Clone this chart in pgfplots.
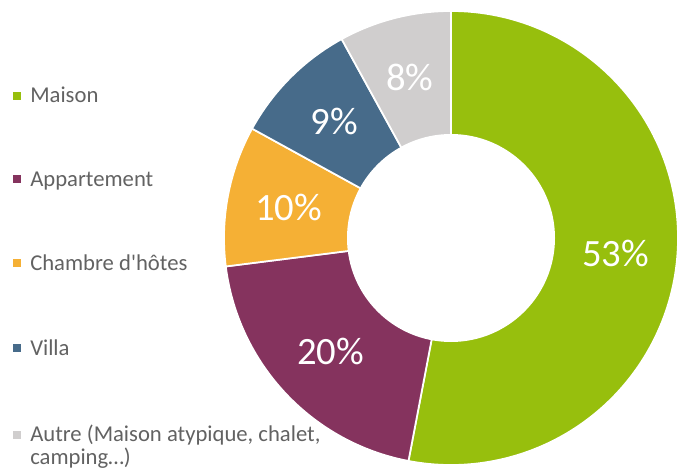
\documentclass[border=0pt]{standalone}
\usepackage{pgfplots}
\pgfplotsset{compat=1.18}
\usepackage{fontspec}
\setmainfont{Carlito}[Ligatures=TeXOff]
\definecolor{cMaison}{HTML}{97BF0D}
\definecolor{cAppart}{HTML}{85335E}
\definecolor{cChambre}{HTML}{F5B035}
\definecolor{cVilla}{HTML}{476B8A}
\definecolor{cAutre}{HTML}{D0CECE}
\definecolor{txt}{HTML}{626262}
% data (percent)
\def\vA{53}\def\vB{20}\def\vC{10}\def\vD{9}\def\vE{8}
\def\Rout{170.25pt}
\def\Rin{78pt}
\def\Rlab{124pt}
% slice: start cumulative, value, colour
\newcommand{\pieslice}[3]{%
  \fill[#3, draw=white, line width=1.3pt] (axis cs:451,234) -- ++({90-3.6*(#1)}:\Rout)
     arc[start angle={90-3.6*(#1)}, end angle={90-3.6*(#1+#2)}, radius=\Rout] -- cycle;
}
\newcommand{\wlabel}[3]{%
  \path (axis cs:451,234) ++({90-3.6*(#1+#2/2)}:\Rlab) node[text=white, font=\fontsize{29}{32}\selectfont] {#3};
}
\newcommand{\legentry}[3]{%
  \node[fill=#2, minimum size=6pt, inner sep=0pt] at (axis cs:17,{472-#1+7}) {};
  \node[anchor=base west, inner sep=0pt, text=txt, font=\fontsize{17}{20}\selectfont] at (axis cs:30,{472-#1}) {#3};
}
\begin{document}
\begin{tikzpicture}
\begin{axis}[x=0.75pt, y=0.75pt, xmin=0, xmax=678, ymin=0, ymax=472,
  hide axis, clip=false, anchor=south west, at={(0,0)}]
\pieslice{0}{\vA}{cMaison}
\pieslice{\vA}{\vB}{cAppart}
\pieslice{\vA+\vB}{\vC}{cChambre}
\pieslice{\vA+\vB+\vC}{\vD}{cVilla}
\pieslice{\vA+\vB+\vC+\vD}{\vE}{cAutre}
\fill[white] (axis cs:451,234) circle[radius=\Rin];
\wlabel{0}{\vA}{53\%}
\wlabel{\vA}{\vB}{20\%}
\wlabel{\vA+\vB}{\vC}{10\%}
\wlabel{\vA+\vB+\vC}{\vD}{9\%}
\wlabel{\vA+\vB+\vC+\vD}{\vE}{8\%}
\legentry{102.7}{cMaison}{Maison}
\legentry{186}{cAppart}{Appartement}
\legentry{270}{cChambre}{Chambre d'hôtes}
\legentry{355}{cVilla}{Villa}
\legentry{441.5}{cAutre}{Autre (Maison atypique, chalet,}
\node[anchor=base west, inner sep=0pt, text=txt, font=\fontsize{17}{20}\selectfont] at (axis cs:30,{472-464}) {camping…)};
\end{axis}
\pgfresetboundingbox
\path[use as bounding box] (0,0) rectangle (508.5pt,354pt);
\end{tikzpicture}
\end{document}
